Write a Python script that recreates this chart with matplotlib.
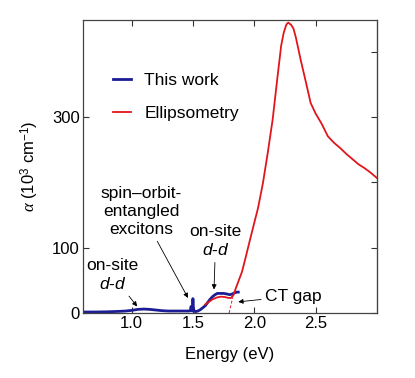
import matplotlib
matplotlib.use('Agg')
import matplotlib.pyplot as plt

plt.rcParams['font.family'] = ['Liberation Sans', 'DejaVu Sans']
plt.rcParams['mathtext.fontset'] = 'custom'
plt.rcParams['mathtext.rm'] = 'Liberation Sans'
plt.rcParams['mathtext.it'] = 'Liberation Serif:italic'
plt.rcParams['mathtext.sf'] = 'Liberation Sans:italic'
plt.rcParams['font.size'] = 12

# This work (blue)
blue_e = [0.6, 0.7, 0.8, 0.9, 0.95, 1.0, 1.05, 1.1, 1.15, 1.2, 1.25, 1.3, 1.4,
          1.47, 1.48, 1.485, 1.49, 1.493, 1.497, 1.5, 1.503, 1.507, 1.51, 1.52,
          1.54, 1.56, 1.58, 1.6, 1.62, 1.64, 1.66, 1.68, 1.7, 1.72, 1.75, 1.78,
          1.8, 1.82, 1.84, 1.86, 1.87]
blue_a = [1.5, 1.5, 1.8, 2.5, 3, 4, 5.5, 6, 5.5, 4.5, 3.5, 3, 3,
          3, 3.5, 10, 4, 3, 8, 22, 10, 5, 3, 2,
          3, 5, 8, 11, 16, 21, 25, 28, 30, 30, 30, 29,
          28, 29, 31, 32, 32]

# Ellipsometry (red)
red_e = [1.6, 1.63, 1.66, 1.7, 1.73, 1.76, 1.79, 1.81, 1.83, 1.85, 1.87, 1.9,
         1.93, 1.96, 2.0, 2.03, 2.07, 2.11, 2.15, 2.19, 2.22, 2.24, 2.26, 2.27,
         2.28, 2.29, 2.3, 2.32, 2.34, 2.38, 2.42, 2.46, 2.5, 2.55, 2.6, 2.65,
         2.7, 2.75, 2.8, 2.85, 2.9, 2.95, 3.0]
red_a = [13, 17, 21, 24, 25, 24.5, 23, 23, 27, 38, 48, 63,
         85, 108, 138, 160, 198, 245, 296, 362, 410, 429, 441, 444,
         445, 443, 442, 436, 422, 387, 355, 322, 306, 290, 271, 261,
         253, 244, 236, 228, 222, 215, 207]

# CT gap extrapolation
ct_e = [1.795, 1.825]
ct_a = [0, 24]

blue = '#1c1c96'
red = '#e0161c'

fig = plt.figure(figsize=(4.15, 3.78), dpi=100)
ax = fig.add_axes([0.199, 0.172, 0.709, 0.775])

ax.plot(blue_e, blue_a, color=blue, lw=2, label='This work')
ax.plot(red_e, red_a, color=red, lw=1.3, label='Ellipsometry')
ax.plot(ct_e, ct_a, color=red, lw=0.7, ls=(0, (3, 2)))

ax.set_xlim(0.6, 3.0)
ax.set_ylim(0, 449)
ax.set_xticks([1.0, 1.5, 2.0, 2.5])
ax.set_xticklabels(['1.0', '1.5', '2.0', '2.5'])
ax.set_yticks([0, 100, 300])
ax.tick_params(direction='in', length=4.5, width=0.8, top=True, colors='#333333',
               labelcolor='black', pad=2)
sec = ax.secondary_yaxis('right')
sec.set_yticks([0, 100, 200, 300, 400])
sec.set_yticklabels([])
sec.tick_params(direction='in', length=4.5, width=0.8, colors='#333333')
for s in ax.spines.values():
    s.set_color('#444444')
    s.set_linewidth(0.9)
sec.spines['right'].set_color('#444444')

ax.set_xlabel('Energy (eV)', labelpad=12)
ax.set_ylabel(r'$\alpha$ (10$^3$ cm$^{-1}$)', labelpad=8)

ax.legend(loc='center left', bbox_to_anchor=(0.104, 0.737), frameon=False,
          handlelength=1.0, handletextpad=0.8, labelspacing=1.0,
          borderpad=0, borderaxespad=0, fontsize=12.5)

arrow = dict(arrowstyle='-|>', lw=0.6, color='k', mutation_scale=7,
             shrinkA=1, shrinkB=0)
dd = 'on-site\n$\\mathsf{d}$-$\\mathsf{d}$'
ax.annotate(dd, xy=(1.045, 10), xytext=(0.843, 58),
            ha='center', va='center', fontsize=12.5, linespacing=1.25,
            arrowprops=arrow)
ax.annotate('spin\u2013orbit-\nentangled\nexcitons', xy=(1.46, 23),
            xytext=(1.079, 155), ha='center', va='center', fontsize=12.5,
            linespacing=1.25, arrowprops=arrow)
ax.annotate(dd, xy=(1.672, 36), xytext=(1.685, 110),
            ha='center', va='center', fontsize=12.5, linespacing=1.25,
            arrowprops=arrow)
ax.annotate('CT gap', xy=(1.87, 17), xytext=(2.09, 26),
            ha='left', va='center', fontsize=12.5, arrowprops=arrow)

fig.savefig('out.png', dpi=100)
